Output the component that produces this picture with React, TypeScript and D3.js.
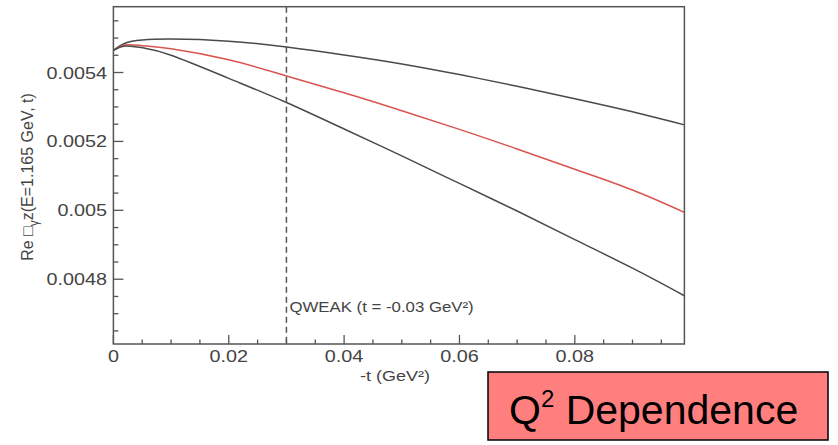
import React from 'react';
import * as d3 from 'd3';

// -t values (GeV^2)
const tValues = [0, 0.002, 0.005, 0.01, 0.02, 0.03, 0.04, 0.05, 0.06, 0.07, 0.08, 0.09, 0.099];
// Re box_gammaZ curves
const upperCurve = [0.005464, 0.005485, 0.005494, 0.005497, 0.005491, 0.005474, 0.005451, 0.005425, 0.005394, 0.00536, 0.005324, 0.005286, 0.005248];
const centralCurve = [0.005464, 0.00548, 0.005478, 0.005469, 0.005437, 0.00539, 0.005341, 0.005289, 0.005235, 0.005178, 0.005119, 0.005059, 0.004994];
const lowerCurve = [0.005464, 0.005477, 0.005472, 0.00545, 0.005383, 0.005313, 0.005236, 0.005158, 0.005078, 0.004998, 0.004915, 0.004832, 0.004752];

const xMajorTicks = [0, 0.02, 0.04, 0.06, 0.08];
const xTickLabels = ['0', '0.02', '0.04', '0.06', '0.08'];
const yMajorTicks = [0.0048, 0.005, 0.0052, 0.0054];
const yTickLabels = ['0.0048', '0.005', '0.0052', '0.0054'];
const qweakT = 0.03;

const W = 838;
const H = 445;
const frame = {left: 113.4, right: 684.4, top: 6.7, bottom: 344};
const axisColor = '#555';
const textColor = '#444';
const font = '"Liberation Sans", Arial, Helvetica, sans-serif';

export default function App() {
    const xScale = d3.scaleLinear().domain([0, 0.099]).range([frame.left, frame.right]);
    const yScale = d3.scaleLinear().domain([0.004612, 0.005591]).range([frame.bottom, frame.top]);

    const line = d3.line<number>()
        .x((d, i) => xScale(tValues[i]))
        .y(d => yScale(d))
        .curve(d3.curveNatural);

    // minor ticks
    const xMinor = d3.range(0, 0.0991, 0.005).filter(v => !xMajorTicks.some(m => Math.abs(m - v) < 1e-9));
    const yMinor = d3.range(0.00465, 0.00557, 0.00005).filter(v => !yMajorTicks.some(m => Math.abs(m - v) < 1e-9));

    // text in the reference is a bit stretched horizontally
    const stretched = (x, y, anchor, content, size, key?) => (
        <text key={key} transform={`translate(${x},${y}) scale(1.2,1)`} textAnchor={anchor}
            fontSize={size} fill={textColor} fontFamily={font}>{content}</text>
    );

    return (
        <svg width={W} height={H} style={{position: 'absolute', left: 0, top: 0, background: '#fff'}}>
            {/* curves */}
            <g fill="none" strokeWidth={1.5}>
                <path d={line(upperCurve)!} stroke="#4a4a4a" />
                <path d={line(centralCurve)!} stroke="#d9534f" />
                <path d={line(lowerCurve)!} stroke="#4a4a4a" />
            </g>

            {/* QWEAK marker */}
            <line x1={xScale(qweakT)} x2={xScale(qweakT)} y1={frame.top} y2={frame.bottom}
                stroke={axisColor} strokeWidth={1.5} strokeDasharray="6,4" />
            {stretched(xScale(qweakT) + 3, 312, 'start', 'QWEAK (t = -0.03 GeV²)', 14)}

            {/* frame */}
            <rect x={frame.left} y={frame.top} width={frame.right - frame.left} height={frame.bottom - frame.top}
                fill="none" stroke={axisColor} strokeWidth={1.5} />

            {/* ticks, pointing inward */}
            <g stroke={axisColor} strokeWidth={1.3}>
                {xMajorTicks.map(v => (
                    <line key={'xM' + v} x1={xScale(v)} x2={xScale(v)} y1={frame.bottom} y2={frame.bottom - 9} />
                ))}
                {xMinor.map(v => (
                    <line key={'xm' + v} x1={xScale(v)} x2={xScale(v)} y1={frame.bottom} y2={frame.bottom - 4.5} />
                ))}
                {yMajorTicks.map(v => (
                    <line key={'yM' + v} x1={frame.left} x2={frame.left + 10} y1={yScale(v)} y2={yScale(v)} />
                ))}
                {yMinor.map(v => (
                    <line key={'ym' + v} x1={frame.left} x2={frame.left + 5} y1={yScale(v)} y2={yScale(v)} />
                ))}
            </g>

            {xMajorTicks.map((v, i) => stretched(xScale(v), 362, 'middle', xTickLabels[i], 16.5, 'xl' + i))}
            {yMajorTicks.map((v, i) => stretched(107, yScale(v) + 6, 'end', yTickLabels[i], 16.5, 'yl' + i))}

            {/* axis titles */}
            {stretched(395, 381, 'middle', <>-t (GeV²)</>, 15)}
            <text transform="translate(33,177) rotate(-90)" textAnchor="middle" fontSize={16}
                fill={textColor} fontFamily={font}>
                Re □<tspan fontSize={12} dy={5}>γ</tspan><tspan dy={-5}>z(E=1.165 GeV, t)</tspan>
            </text>

            {/* slide label */}
            <rect x={488} y={372} width={340} height={68} fill="#ff7f7f" stroke="#000" strokeWidth={1.5} />
            <text x={509} y={424} fontSize={41} fill="#000" fontFamily={font}>
                Q<tspan fontSize={24} dy={-17}>2</tspan><tspan dy={17}> Dependence</tspan>
            </text>
        </svg>
    );
}
